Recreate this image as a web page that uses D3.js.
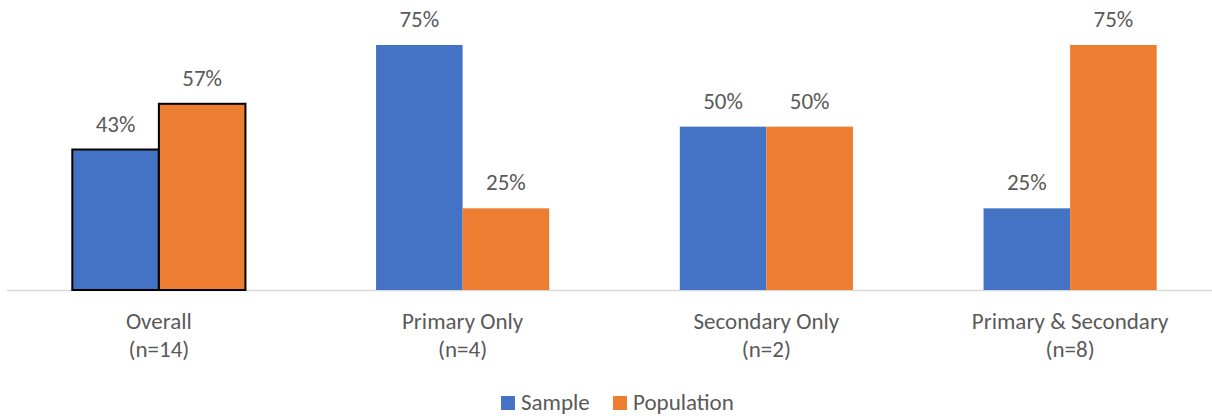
<!DOCTYPE html>
<html>
<head>
<meta charset="utf-8">
<script src="https://cdn.jsdelivr.net/npm/d3@7"></script>
<style>
  html, body { margin: 0; padding: 0; background: #fff; }
  svg { display: block; font-family: Carlito, Lato, "Open Sans", sans-serif; }
</style>
</head>
<body>
<svg id="chart" width="1212" height="416"></svg>
<script>
// Category labels (two lines each) and series values in percent
const categories = ["Overall", "Primary Only", "Secondary Only", "Primary & Secondary"];
const categoryCounts = ["(n=14)", "(n=4)", "(n=2)", "(n=8)"];
const seriesNames = ["Sample", "Population"];
const sampleValues = [43, 75, 50, 25];
const populationValues = [57, 25, 50, 75];
const seriesColors = ["#4472C4", "#ED7D31"];
const outlinedCategories = ["Overall"];

const svg = d3.select("#chart");
const baseY = 290;
const fontSize = 23;
const x0 = d3.scaleBand().domain(categories).range([7, 1222]).paddingInner(0.43).paddingOuter(0.215);
const x1 = d3.scaleBand().domain(seriesNames).range([0, x0.bandwidth()]);
const y = d3.scaleLinear().domain([0, 100]).range([baseY, baseY - 326.7]);

const rows = categories.map((c, i) => ({
  category: c,
  count: categoryCounts[i],
  values: [sampleValues[i], populationValues[i]]
}));

// Axis baseline
svg.append("line")
  .attr("x1", 7).attr("x2", 1222)
  .attr("y1", baseY + 0.5).attr("y2", baseY + 0.5)
  .attr("stroke", "#D9D9D9").attr("stroke-width", 1.5);

const groups = svg.selectAll("g.group").data(rows).enter().append("g")
  .attr("class", "group")
  .attr("transform", d => `translate(${x0(d.category)},0)`);

groups.selectAll("rect").data(d => d.values.map((v, j) => ({
    v, s: seriesNames[j], color: seriesColors[j], outlined: outlinedCategories.includes(d.category)
  })))
  .enter().append("rect")
  .attr("x", d => x1(d.s))
  .attr("y", d => y(d.v))
  .attr("width", x1.bandwidth())
  .attr("height", d => baseY - y(d.v))
  .attr("fill", d => d.color)
  .attr("stroke", d => d.outlined ? "#000" : "none")
  .attr("stroke-width", d => d.outlined ? 2 : 0);

// Value labels
groups.selectAll("text.val").data(d => d.values.map((v, j) => ({ v, s: seriesNames[j] })))
  .enter().append("text")
  .attr("class", "val")
  .attr("x", d => x1(d.s) + x1.bandwidth() / 2)
  .attr("y", d => y(d.v) - 18)
  .attr("text-anchor", "middle")
  .attr("font-size", fontSize)
  .attr("fill", "#595959")
  .text(d => d.v + "%");

// Category labels
groups.append("text")
  .attr("x", x0.bandwidth() / 2).attr("y", 329)
  .attr("text-anchor", "middle").attr("font-size", fontSize).attr("fill", "#595959")
  .text(d => d.category);
groups.append("text")
  .attr("x", x0.bandwidth() / 2).attr("y", 357)
  .attr("text-anchor", "middle").attr("font-size", fontSize).attr("fill", "#595959")
  .text(d => d.count);

// Legend
const legendX = [501, 613];
const legend = svg.selectAll("g.legend").data(seriesNames).enter().append("g")
  .attr("class", "legend")
  .attr("transform", (d, i) => `translate(${legendX[i]},0)`);
legend.append("rect")
  .attr("x", 0).attr("y", 396).attr("width", 14).attr("height", 14)
  .attr("fill", (d, i) => seriesColors[i]);
legend.append("text")
  .attr("x", 20).attr("y", 410)
  .attr("font-size", fontSize).attr("fill", "#595959")
  .text(d => d);
</script>
</body>
</html>
